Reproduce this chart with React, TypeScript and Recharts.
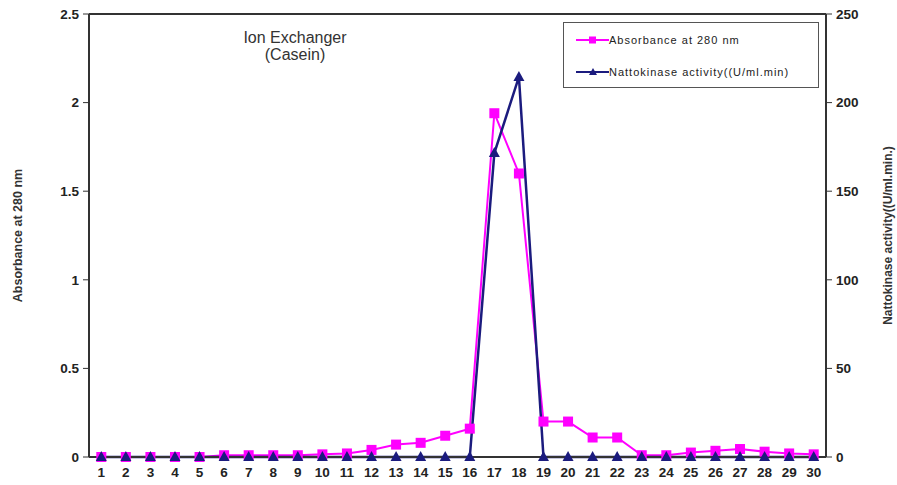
import {
  ComposedChart,
  Line,
  XAxis,
  YAxis,
  ReferenceLine,
} from "recharts";

const fractions = [
  1, 2, 3, 4, 5, 6, 7, 8, 9, 10, 11, 12, 13, 14, 15, 16, 17, 18, 19, 20, 21,
  22, 23, 24, 25, 26, 27, 28, 29, 30,
];
const absorbance = [
  0, 0, 0, 0, 0, 0.01, 0.01, 0.01, 0.01, 0.015, 0.02, 0.04, 0.07, 0.08, 0.12,
  0.16, 1.94, 1.6, 0.2, 0.2, 0.11, 0.11, 0.01, 0.01, 0.025, 0.035, 0.045, 0.03,
  0.02, 0.015,
];
const activity = [
  0, 0, 0, 0, 0, 0, 0, 0, 0, 0, 0, 0, 0, 0, 0, 0, 171.5, 214.5, 0, 0, 0, 0, 0,
  0, 0, 0, 0, 0, 0, 0,
];
const leftTicks = [0, 0.5, 1, 1.5, 2, 2.5];
const rightTicks = [0, 50, 100, 150, 200, 250];
const minorTicks = fractions.slice(0, -1).map((f) => f + 0.5);

const PINK = "#ff00ff";
const NAVY = "#1b1b7e";
const AXIS = "#333";

const data = fractions.map((f, i) => ({
  f,
  abs: absorbance[i],
  act: activity[i],
}));

const tickStyle = {
  fill: "#222",
  fontSize: 13.5,
  fontWeight: 700,
  fontFamily: "Liberation Sans, Arial, sans-serif",
};

// eslint-disable-next-line @typescript-eslint/no-explicit-any
const Square = (p: any) => {
  const { cx, cy, index } = p;
  if (cx == null || cy == null) return <g key={index} />;
  return (
    <rect key={index} x={cx - 5} y={cy - 5} width={10} height={10} fill={PINK} />
  );
};

// eslint-disable-next-line @typescript-eslint/no-explicit-any
const Triangle = (p: any) => {
  const { cx, cy, index } = p;
  if (cx == null || cy == null) return <g key={index} />;
  return (
    <polygon
      key={index}
      points={`${cx},${cy - 6} ${cx - 5.5},${cy + 4} ${cx + 5.5},${cy + 4}`}
      fill={NAVY}
    />
  );
};

function LegendBox() {
  const row = (color: string, label: string, tri: boolean, top: number) => (
    <div
      style={{
        position: "absolute",
        left: 12,
        top,
        display: "flex",
        alignItems: "center",
        fontSize: 11,
        letterSpacing: 1,
        color: "#222",
        whiteSpace: "nowrap",
      }}
    >
      <svg width={33} height={10}>
        <line x1={0} y1={5} x2={33} y2={5} stroke={color} strokeWidth={2} />
        {tri ? (
          <polygon points="17,1 13,8 21,8" fill={color} />
        ) : (
          <rect x={13} y={1.5} width={7} height={7} fill={color} />
        )}
      </svg>
      <span>{label}</span>
    </div>
  );
  return (
    <div
      style={{
        position: "absolute",
        left: 563,
        top: 22,
        width: 254,
        height: 64,
        border: "1px solid #555",
        background: "#fff",
        fontFamily: "Liberation Sans, Arial, sans-serif",
      }}
    >
      {row(PINK, "Absorbance at 280 nm", false, 11)}
      {row(NAVY, "Nattokinase activity((U/ml.min)", true, 43)}
    </div>
  );
}

export default function App() {
  return (
    <div
      style={{
        position: "absolute",
        left: 0,
        top: 0,
        width: 897,
        height: 485,
        background: "#fff",
      }}
    >
      <ComposedChart
        width={897}
        height={485}
        data={data}
        margin={{ top: 14, right: 0, bottom: 0, left: 0 }}
      >
        <XAxis
          dataKey="f"
          type="number"
          domain={[0.5, 30.5]}
          ticks={fractions}
          interval={0}
          tick={tickStyle}
          tickLine={false}
          axisLine={{ stroke: AXIS, strokeWidth: 2 }}
          height={28}
          tickMargin={4}
        />
        <XAxis
          xAxisId="minor"
          dataKey="f"
          type="number"
          domain={[0.5, 30.5]}
          ticks={minorTicks}
          interval={0}
          tick={false}
          tickSize={4}
          tickLine={{ stroke: AXIS }}
          axisLine={false}
          height={0}
          orientation="bottom"
        />
        <YAxis
          yAxisId="left"
          domain={[0, 2.5]}
          ticks={leftTicks}
          tick={tickStyle}
          tickSize={6}
          tickLine={{ stroke: AXIS }}
          axisLine={{ stroke: AXIS, strokeWidth: 2 }}
          width={89}
          tickMargin={4}
          label={{
            value: "Absorbance at 280 nm",
            angle: -90,
            position: "insideLeft",
            offset: 18,
            style: {
              fill: "#333",
              fontSize: 12.5,
              fontWeight: 700,
              fontFamily: "Liberation Sans, Arial, sans-serif",
              textAnchor: "middle",
            },
          }}
        />
        <YAxis
          yAxisId="right"
          orientation="right"
          domain={[0, 250]}
          ticks={rightTicks}
          tick={tickStyle}
          tickSize={6}
          tickLine={{ stroke: AXIS }}
          axisLine={{ stroke: AXIS, strokeWidth: 2 }}
          width={71}
          tickMargin={4}
          label={{
            value: "Nattokinase activity((U/ml.min.)",
            angle: -90,
            position: "insideRight",
            offset: 9,
            style: {
              fill: "#333",
              fontSize: 12,
              fontWeight: 700,
              fontFamily: "Liberation Sans, Arial, sans-serif",
              textAnchor: "middle",
            },
          }}
        />
        <ReferenceLine
          yAxisId="left"
          y={2.5}
          stroke={AXIS}
          strokeWidth={2}
          ifOverflow="extendDomain"
        />
        <Line
          yAxisId="left"
          dataKey="abs"
          stroke={PINK}
          strokeWidth={2}
          dot={Square}
          activeDot={false}
          isAnimationActive={false}
        />
        <Line
          yAxisId="right"
          dataKey="act"
          stroke={NAVY}
          strokeWidth={2.5}
          dot={Triangle}
          activeDot={false}
          isAnimationActive={false}
        />
      </ComposedChart>
      <div
        style={{
          position: "absolute",
          left: 220,
          top: 29,
          width: 150,
          textAlign: "center",
          fontFamily: "Liberation Sans, Arial, sans-serif",
          fontSize: 16,
          lineHeight: "17px",
          color: "#333",
        }}
      >
        Ion Exchanger
        <br />
        (Casein)
      </div>
      <LegendBox />
    </div>
  );
}
